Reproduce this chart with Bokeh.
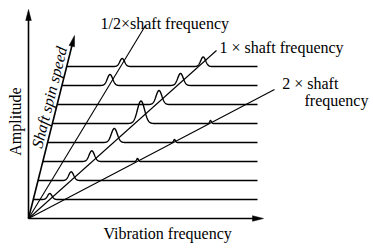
import numpy as np
from bokeh.plotting import figure
from bokeh.models import Range1d
from bokeh.core.properties import value
from bokeh.embed import file_html
from bokeh.resources import INLINE

# ---- data (chart units: frequency to the right, amplitude/speed upward) ----
speed_levels = [19, 38, 57, 76, 95, 114, 133, 152]      # baseline of each spectrum
spectrum_end = 229                                       # right end of spectra
speed_axis_tip = (46, 183)                               # slanted "shaft spin speed" axis
amp_axis_top = 209
freq_axis_end = 235

# peaks: spectrum index, frequency, amplitude, width
peak_line = [0, 1, 2, 3, 4, 5, 6, 6, 7, 7, 2, 3, 4]
peak_freq = [21.3, 42.7, 63.3, 85.8, 112.5, 130.5, 81.5, 152.0, 93.7, 174.7, 109.0, 146.0, 182.0]
peak_amp = [6.0, 8.7, 10.7, 14.0, 22.5, 14.0, 11.0, 12.0, 8.0, 9.5, 3.0, 3.0, 3.0]
peak_sigma = [2.2, 2.5, 2.7, 3.0, 3.6, 2.9, 2.7, 2.8, 2.4, 2.5, 0.9, 0.9, 0.9]

# order lines (1/2x, 1x, 2x) end points
ray_end_x = [117, 188, 246]
ray_end_y = [193, 168, 129]

label_text = ["1/2\u00d7shaft frequency", "1 \u00d7 shaft frequency", "2 \u00d7 shaft", "frequency"]
label_x = [72, 191, 253.7, 276]
label_y = [195.3, 171.3, 134.7, 118]

W, H = 373, 249
x0, y1 = -28, 218

p = figure(width=W, height=H, output_backend="svg", toolbar_location=None,
           x_range=Range1d(x0, x0 + W), y_range=Range1d(y1 - H, y1),
           min_border=0, x_axis_location=None, y_axis_location=None)
p.outline_line_color = None
p.grid.visible = False
p.background_fill_color = "white"

slope = speed_axis_tip[0] / speed_axis_tip[1]

# spectra
for i, base in enumerate(speed_levels):
    xs = np.linspace(slope * base, spectrum_end, 900)
    ys = np.full_like(xs, float(base))
    for ln, f, a, s in zip(peak_line, peak_freq, peak_amp, peak_sigma):
        if ln == i:
            ys = ys + a * np.exp(-0.5 * ((xs - f) / s) ** 2)
    p.line(xs, ys, line_color="black", line_width=1.4)

# order rays
for ex, ey in zip(ray_end_x, ray_end_y):
    p.line([0, ex], [0, ey], line_color="black", line_width=1.1)

# axes with arrows
def arrow(tip, length=11.0, half=2.8):
    tx, ty = tip
    n = np.hypot(tx, ty)
    dx, dy = tx / n, ty / n
    bx, by = tx - dx * length, ty - dy * length
    px, py = -dy, dx
    p.line([0, bx + dx * 2], [0, by + dy * 2], line_color="black", line_width=1.6)
    p.patch([tx, bx + px * half, bx - px * half], [ty, by + py * half, by - py * half],
            fill_color="black", line_color="black", line_width=0.5)

arrow((0, amp_axis_top))
arrow((freq_axis_end, 0))
arrow(speed_axis_tip)

font = value("Liberation Serif")
p.text(x=label_x, y=label_y, text=label_text, text_font=font, text_font_size="16px",
       text_align="left", text_baseline="middle", text_color="black")
p.text(x=[75], y=[-15], text=["Vibration frequency"], text_font=font, text_font_size="16px",
       text_align="left", text_baseline="middle", text_color="black")
p.text(x=[-13], y=[97], text=["Amplitude"], angle=np.pi / 2, text_font=font,
       text_font_size="16px", text_align="center", text_baseline="middle", text_color="black")
ang = np.arctan2(speed_axis_tip[1], speed_axis_tip[0])
p.text(x=[20.8], y=[121.2], text=["Shaft spin speed"], angle=ang, text_font=font,
       text_font_style="italic", text_font_size="16px", text_align="center",
       text_baseline="middle", text_color="black")

open("out.html", "w").write(file_html(p, INLINE))
